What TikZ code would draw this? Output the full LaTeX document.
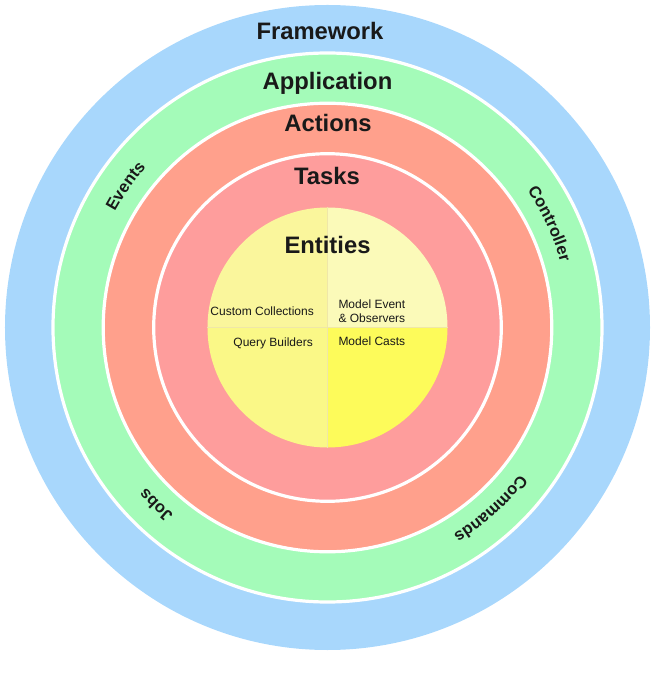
\documentclass[tikz,border=0pt]{standalone}
\usepackage{fontspec}
\setmainfont{Liberation Sans}
\usepackage{xcolor}
\usepackage{tikz}
\usetikzlibrary{decorations.text, positioning}
\definecolor{FrameBlue}{HTML}{A8D7FC}
\definecolor{AppGreen}{HTML}{A4FBB9}
\definecolor{ActSalmon}{HTML}{FFA08C}
\definecolor{TaskPink}{HTML}{FE9D9C}
\definecolor{EntTL}{HTML}{FAF69C}
\definecolor{EntTR}{HTML}{FBFAB9}
\definecolor{EntBL}{HTML}{FAF887}
\definecolor{EntBR}{HTML}{FDFB5A}
\definecolor{EntLine}{HTML}{EFE7A8}
\newcommand\ringfont{\fontsize{16.5}{19}\selectfont\bfseries}
\tikzset{
  % anelli
  ring/.style={draw=white,line width=3.2pt},
  % testi
  layer label/.style={font=\fontsize{23.8}{28}\selectfont\bfseries,text=black!90,anchor=base,inner sep=0pt},
  part label/.style={font=\fontsize{12}{14.4}\selectfont,text=black!90,align=left,inner sep=0pt},
  ring text/.style={decorate,decoration={text along path,text align=center,text color=black!90,text={|\ringfont|#1}}}
}

\begin{document}
\begin{tikzpicture}[x=1pt,y=1pt]
    \useasboundingbox (-327.5,-351.5) rectangle (326.5,327.5);
    \fill[FrameBlue] (0,0) circle[radius=322.5pt];
    \filldraw[ring,fill=AppGreen] (0,0) circle[radius=274.5pt];
    \filldraw[ring,fill=ActSalmon] (0,0) circle[radius=224.3pt];
    \filldraw[ring,fill=TaskPink] (0,0) circle[radius=173.8pt];
    \fill[EntTL] (0,0) -- (180:120pt) arc[start angle=180,end angle=90,radius=120pt] -- cycle;
    \fill[EntTR] (0,0) -- (90:120pt) arc[start angle=90,end angle=0,radius=120pt] -- cycle;
    \fill[EntBR] (0,0) -- (0:120pt) arc[start angle=360,end angle=270,radius=120pt] -- cycle;
    \fill[EntBL] (0,0) -- (270:120pt) arc[start angle=270,end angle=180,radius=120pt] -- cycle;
    \draw[EntLine,line width=0.6pt] (-120,0) -- (120,0) (0,120) -- (0,-120);
    \node[layer label] (framework) at (-7.5,288) {Framework};
    \node[layer label] (application) at (0,237.5) {Application};
    \node[layer label] (actions) at (0.5,195.8) {Actions};
    \node[layer label] (tasks) at (-0.5,142.5) {Tasks};
    \node[layer label] (entities) at (0,74.2) {Entities};
    \node[part label,anchor=base east] (collections) at (-13.5,12.2) {Custom Collections};
    \node[part label,anchor=base east] (builders) at (-14.5,-19.2) {Query Builders};
    \node[part label,anchor=base west] (observers) at (10.8,4.8) {Model Event\\\& Observers};
    \node[part label,anchor=base west] (casts) at (10.8,-18.5) {Model Casts};
    \path[ring text=Events] (175:242pt) arc[start angle=175,end angle=115,radius=242pt];
    \path[ring text=Controller] (60:242pt) arc[start angle=60,end angle=-10,radius=242pt];
    \path[ring text=Commands] (-10:242pt) arc[start angle=-10,end angle=-86,radius=242pt];
    \path[ring text=Jobs] (260:242pt) arc[start angle=260,end angle=192,radius=242pt];
\end{tikzpicture}
\end{document}
